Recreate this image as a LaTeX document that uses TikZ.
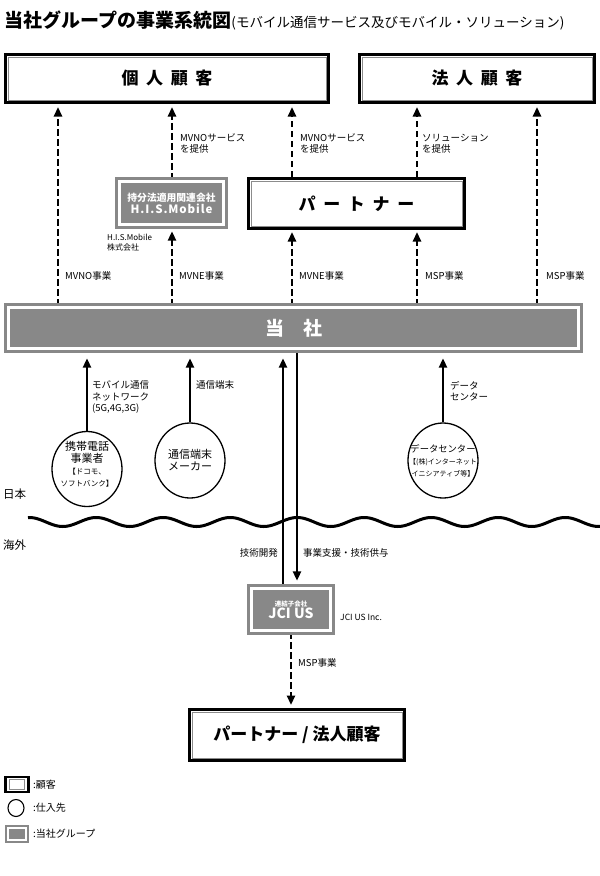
\documentclass[tikz,border=0pt]{standalone}
\usepackage{fontspec}
\setmainfont{Noto Sans CJK JP}
\usetikzlibrary{arrows.meta,shapes.geometric,backgrounds}
\definecolor{grpgray}{HTML}{888888}
\definecolor{ingray}{HTML}{8C8C8C}
\newcommand\fsz[2]{\fontsize{#1}{#2}\selectfont}
\begin{document}
\begin{tikzpicture}[x=1pt,y=-1pt,
 custbox/.style={draw=black,line width=3pt,fill=white,inner sep=0pt,font=\bfseries\fsz{17}{20}},
 grpbox/.style={draw=grpgray,double=white,double distance=2.8pt,line width=2.8pt,fill=grpgray,text=white,inner sep=0pt,align=center,font=\bfseries},
 supp/.style={ellipse,draw=black,line width=1.3pt,fill=white,minimum width=70pt,minimum height=75pt,inner sep=0pt},
 supptext/.style={align=center,inner sep=0pt},
 lbl/.style={font=\fsz{9.5}{11.5},align=left,inner sep=0pt,anchor=west},
 darr/.style={line width=2.4pt,dash pattern=on 6.5pt off 3.5pt,-{Triangle[width=8pt,length=9.5pt]}},
 sarr/.style={line width=2.4pt,-{Triangle[width=8pt,length=9.5pt]}},
]
\useasboundingbox (0,0) rectangle (600,876);
% title
\node[anchor=west,inner sep=0pt,font=\bfseries\fsz{19}{22}] (title) at (4,20) {当社グループの事業系統図};
\node[anchor=base west,inner sep=0pt,font=\fsz{13.5}{16}] (sub) at (title.base east) {(モバイル通信サービス及びモバイル・ソリューション)};
% customer boxes
\node[custbox,minimum width=323pt,minimum height=48pt] (kojin) at (167,78.5) {個\hspace{0.45em}人\hspace{0.45em}顧\hspace{0.45em}客};
\node[custbox,minimum width=235pt,minimum height=48pt] (hojin) at (477,78.5) {法\hspace{0.45em}人\hspace{0.45em}顧\hspace{0.45em}客};
\node[custbox,minimum width=216pt,minimum height=50pt] (partner) at (356.5,203.5) {パ\hspace{0.45em}ー\hspace{0.45em}ト\hspace{0.45em}ナ\hspace{0.45em}ー};
\node[custbox,minimum width=215pt,minimum height=51pt] (pc) at (297,735) {パートナー / 法人顧客};
\foreach \n in {kojin,hojin,partner,pc}
  \draw[ingray,line width=0.9pt] ([shift={(4pt,-4pt)}]\n.north west) rectangle ([shift={(-4pt,4pt)}]\n.south east);
% group boxes
\node[grpbox,minimum width=104.6pt,minimum height=43.6pt] (his) at (171.5,203)
  {\fsz{9.8}{15}持分法適用関連会社\\\addfontfeatures{LetterSpace=8}\fsz{11.5}{14}H.I.S.Mobile};
\node[grpbox,minimum width=570.6pt,minimum height=41.6pt,font=\bfseries\fsz{19}{22}] (tosha) at (293.5,328) {当　社};
\node[grpbox,minimum width=79.6pt,minimum height=42.6pt] (jci) at (291,609.5)
  {\fsz{6.5}{10}連結子会社\\\fsz{14}{17}JCI US};
% suppliers
\node[supp,label={[supptext,yshift=5pt]center:{\fsz{11}{12}携帯電話\\\fsz{11}{13}事業者\\\fsz{7.5}{10.5}【ドコモ、\\\fsz{7.5}{9.5}ソフトバンク】}}] (ket) at (87,469) {};
\node[supp,label={[supptext]center:{\fsz{11}{12}通信端末\\\fsz{11}{12}メーカー}}] (maker) at (190,460.5) {};
\node[supp,label={[supptext]center:{\fsz{9.3}{11}データセンター\\\fsz{7}{9.5}【(株)インターネット\\\fsz{7}{8.5}イニシアティブ等】}}] (dc) at (443,460.5) {};
% x positions
\coordinate (c58) at (58,0);
\coordinate (c172) at (172,0);
\coordinate (c292) at (292,0);
\coordinate (c417) at (417,0);
\coordinate (c537) at (537,0);
\coordinate (c283) at (283,0);
\coordinate (c297) at (297,0);
% connectors
\begin{scope}[on background layer]
\draw[darr,shorten >=3pt] (c58 |- tosha.north) -- (c58 |- kojin.south);
\draw[darr,shorten >=5pt] (c172 |- tosha.north) -- (c172 |- his.south);
\draw[darr,shorten >=3pt] (c172 |- his.north) -- (c172 |- kojin.south);
\draw[darr,shorten >=2pt] (c292 |- tosha.north) -- (c292 |- partner.south);
\draw[darr,shorten >=3pt] (c292 |- partner.north) -- (c292 |- kojin.south);
\draw[darr,shorten >=2pt] (c417 |- tosha.north) -- (c417 |- partner.south);
\draw[darr,shorten >=3pt] (c417 |- partner.north) -- (c417 |- hojin.south);
\draw[darr,shorten >=3pt] (c537 |- tosha.north) -- (c537 |- hojin.south);
\draw[sarr,shorten >=8pt] (ket.north) -- (ket.north |- tosha.south);
\draw[sarr,shorten >=8pt] (maker.north) -- (maker.north |- tosha.south);
\draw[sarr,shorten >=8pt] (dc.north) -- (dc.north |- tosha.south);
\draw[sarr,shorten >=8pt] (c283 |- jci.north) -- (c283 |- tosha.south);
\draw[sarr,shorten >=6pt] (c297 |- tosha.south) -- (c297 |- jci.north);
\draw[darr,shorten >=3pt] (jci.south) -- (jci.south |- pc.north);
\end{scope}
% labels
\node[lbl] (l1) at (180,143.5) {MVNOサービス\\を提供};
\node[lbl] (l2) at (300,143.5) {MVNOサービス\\を提供};
\node[lbl] (l3) at (422,143.5) {ソリューション\\を提供};
\node[lbl] (l4) at (65,276) {MVNO事業};
\node[lbl] (l5) at (179,276) {MVNE事業};
\node[lbl] (l6) at (299,276) {MVNE事業};
\node[lbl] (l7) at (425,276) {MSP事業};
\node[lbl] (l8) at (546,276) {MSP事業};
\node[lbl,font=\fsz{8}{9.5}] (l9) at (107,242.5) {H.I.S.Mobile\\株式会社};
\node[lbl] (l10) at (92,397) {モバイル通信\\ネットワーク\\(5G,4G,3G)};
\node[lbl] (l11) at (196,385) {通信端末};
\node[lbl] (l12) at (450,391) {データ\\センター};
\node[lbl,anchor=east] (l13) at (278,553) {技術開発};
\node[lbl] (l14) at (303,553) {事業支援・技術供与};
\node[lbl,font=\fsz{8.5}{10}] (l15) at (340,617) {JCI US Inc.};
\node[lbl] (l16) at (298,663) {MSP事業};
\node[lbl,font=\fsz{11.5}{13}] (jp) at (3,494) {日本};
\node[lbl,font=\fsz{11.5}{13}] (ov) at (3,545) {海外};
% wave
\draw[line width=3pt] plot[domain=28:600,samples=300,smooth] (\x,{522+4.5*sin((\x-46)*5.373)});
% legend
\node[draw=black,line width=2.5pt,fill=white,minimum width=23pt,minimum height=15pt,inner sep=0pt] (lg1) at (17,784.5) {};
\draw[ingray,line width=0.9pt] ([shift={(5pt,-3.5pt)}]lg1.north west) rectangle ([shift={(-5pt,3.5pt)}]lg1.south east);
\node[lbl,font=\fsz{10}{12}] (lt1) at (33,784.5) {:顧客};
\node[ellipse,draw=black,line width=1.1pt,minimum width=16pt,minimum height=17pt,inner sep=0pt] (lg2) at (16,808) {};
\node[lbl,font=\fsz{10}{12}] (lt2) at (33,808) {:仕入先};
\node[grpbox,line width=2.2pt,double distance=2.2pt,minimum width=18pt,minimum height=12pt] (lg3) at (17,834) {};
\node[lbl,font=\fsz{10}{12}] (lt3) at (33,834) {:当社グループ};
\end{tikzpicture}
\end{document}
